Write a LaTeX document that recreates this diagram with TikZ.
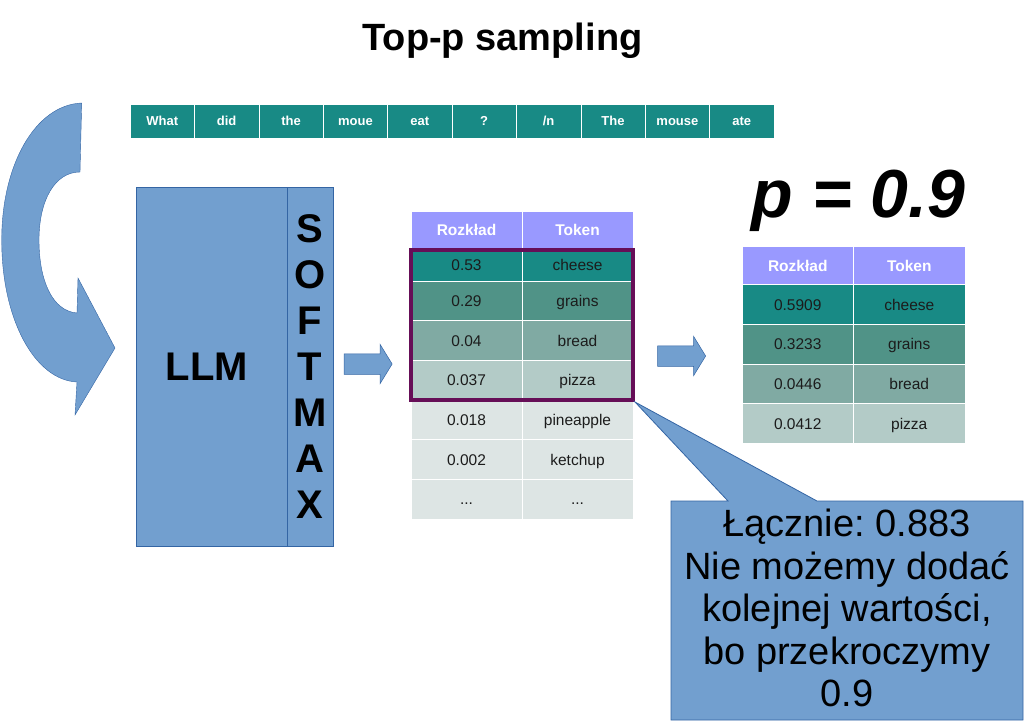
\documentclass[tikz,border=0pt]{standalone}
\usepackage{fontspec}
\setmainfont{Liberation Sans}
\usetikzlibrary{shapes.arrows}
\frenchspacing

\definecolor{llmblue}{RGB}{114,159,207}
\definecolor{edgeblue}{RGB}{52,101,164}
\definecolor{tealA}{RGB}{24,138,133}
\definecolor{tealB}{RGB}{80,147,135}
\definecolor{tealC}{RGB}{128,170,163}
\definecolor{tealD}{RGB}{179,203,199}
\definecolor{tealE}{RGB}{221,229,228}
\definecolor{headviolet}{RGB}{153,153,255}
\definecolor{framepurple}{RGB}{102,14,87}
\definecolor{celltext}{RGB}{28,28,28}

\tikzset{
  tok/.style={draw=white, fill=tealA, text=white, font=\bfseries\fontsize{13}{15}\selectfont,
    text height=9.4pt, text depth=0pt,
    minimum width=64.4pt, minimum height=34pt, inner sep=0pt},
  cell/.style={draw=white, line width=1pt, text=celltext, font=\fontsize{15.5}{18}\selectfont,
    text height=11.1pt, text depth=0pt,
    minimum width=111pt, minimum height=40pt, inner sep=0pt},
  headcell/.style={cell, fill=headviolet, text=white, font=\bfseries\fontsize{15.5}{18}\selectfont},
  blockarr/.style={single arrow, draw=edgeblue, fill=llmblue, line width=0.5pt,
    inner xsep=0pt, inner ysep=10pt, minimum height=48pt,
    single arrow head extend=9.5pt, single arrow tip angle=117},
  llmbox/.style={draw=edgeblue, fill=llmblue, line width=0.8pt, inner sep=0pt,
    minimum height=359pt, font=\bfseries\fontsize{40}{46}\selectfont}
}

\begin{document}
\begin{tikzpicture}[x=1pt,y=-1pt]
  \useasboundingbox (0,0) rectangle (1024,721);

  \node[anchor=base, font=\bfseries\fontsize{38}{44}\selectfont] (title) at (502.5,50) {Top-p sampling};

  % input tokens
  \node[tok] (t1)  at (162.2,121) {What};
  \node[tok] (t2)  at (226.6,121) {did};
  \node[tok] (t3)  at (291.0,121) {the};
  \node[tok] (t4)  at (355.4,121) {moue};
  \node[tok] (t5)  at (419.8,121) {eat};
  \node[tok] (t6)  at (484.2,121) {?};
  \node[tok] (t7)  at (548.6,121) {/n};
  \node[tok] (t8)  at (613.0,121) {The};
  \node[tok] (t9)  at (677.4,121) {mouse};
  \node[tok] (t10) at (741.8,121) {ate};

  % loop arrow
  \filldraw[fill=llmblue, draw=edgeblue, line width=0.4pt]
    (81.7,103) .. controls (35,105) and (1.7,165) .. (1.7,240)
    .. controls (1.7,320) and (35,380) .. (77,382)
    -- (75,415) -- (115,348) -- (78,278) -- (77,313)
    .. controls (52,311) and (39,280) .. (39,240)
    .. controls (39,200) and (55,172) .. (80,172) -- cycle;

  \node[llmbox, minimum width=151pt, text width=141pt, align=center, xshift=-0pt] (llm) at (211.5,366.5) {\hspace*{-9pt}LLM};
  \node[llmbox, minimum width=46pt, align=center] (smax) at (310,366.5) {S\\O\\F\\T\\M\\A\\X};

  \node[blockarr] (arr1) at (365,364) {};

  % distribution
  \node[headcell, minimum height=37pt] (h1) at (466.5,229.5) {Rozkład};
  \node[headcell, minimum height=37pt] (h2) at (577.5,229.5) {Token};
  \node[cell, fill=tealA, minimum height=33pt] (a1) at (466.5,264.5) {0.53};
  \node[cell, fill=tealA, minimum height=33pt] (b1) at (577.5,264.5) {cheese};
  \node[cell, fill=tealB] (a2) at (466.5,301) {0.29};
  \node[cell, fill=tealB] (b2) at (577.5,301) {grains};
  \node[cell, fill=tealC] (a3) at (466.5,340.5) {0.04};
  \node[cell, fill=tealC] (b3) at (577.5,340.5) {bread};
  \node[cell, fill=tealD] (a4) at (466.5,380) {0.037};
  \node[cell, fill=tealD] (b4) at (577.5,380) {pizza};
  \node[cell, fill=tealE] (a5) at (466.5,420) {0.018};
  \node[cell, fill=tealE] (b5) at (577.5,420) {pineapple};
  \node[cell, fill=tealE] (a6) at (466.5,459.5) {0.002};
  \node[cell, fill=tealE] (b6) at (577.5,459.5) {ketchup};
  \node[cell, fill=tealE] (a7) at (466.5,499) {...};
  \node[cell, fill=tealE] (b7) at (577.5,499) {...};

  \node[draw=framepurple, line width=4pt, inner sep=0pt, minimum width=222pt, minimum height=150pt] (frame) at (522,325) {};

  \node[blockarr] (arr2) at (678.5,356) {};

  % renormalized
  \node[anchor=base, font=\bfseries\itshape\fontsize{68}{76}\selectfont] (pval) at (858.5,217) {p = 0.9};
  \node[headcell, minimum width=111.5pt, minimum height=39pt] (r1) at (797.75,265.5) {Rozkład};
  \node[headcell, minimum width=111.5pt, minimum height=39pt] (s1) at (909.25,265.5) {Token};
  \node[cell, fill=tealA, minimum width=111.5pt] (r2) at (797.75,304.5) {0.5909};
  \node[cell, fill=tealA, minimum width=111.5pt] (s2) at (909.25,304.5) {cheese};
  \node[cell, fill=tealB, minimum width=111.5pt] (r3) at (797.75,344) {0.3233};
  \node[cell, fill=tealB, minimum width=111.5pt] (s3) at (909.25,344) {grains};
  \node[cell, fill=tealC, minimum width=111.5pt] (r4) at (797.75,384) {0.0446};
  \node[cell, fill=tealC, minimum width=111.5pt] (s4) at (909.25,384) {bread};
  \node[cell, fill=tealD, minimum width=111.5pt] (r5) at (797.75,423.5) {0.0412};
  \node[cell, fill=tealD, minimum width=111.5pt] (s5) at (909.25,423.5) {pizza};

  % callout
  \filldraw[fill=llmblue, draw=edgeblue, line width=0.8pt]
    (671,501) -- (728,501) -- (frame.south east) -- (817,501) -- (1023,501)
    -- (1023,720) -- (671,720) -- cycle;
  \node[align=center, font=\fontsize{38}{42.5}\selectfont] (note) at (847,608)
    {Łącznie: 0.883\\Nie możemy dodać\\kolejnej wartości,\\bo przekroczymy\\0.9};
\end{tikzpicture}
\end{document}
